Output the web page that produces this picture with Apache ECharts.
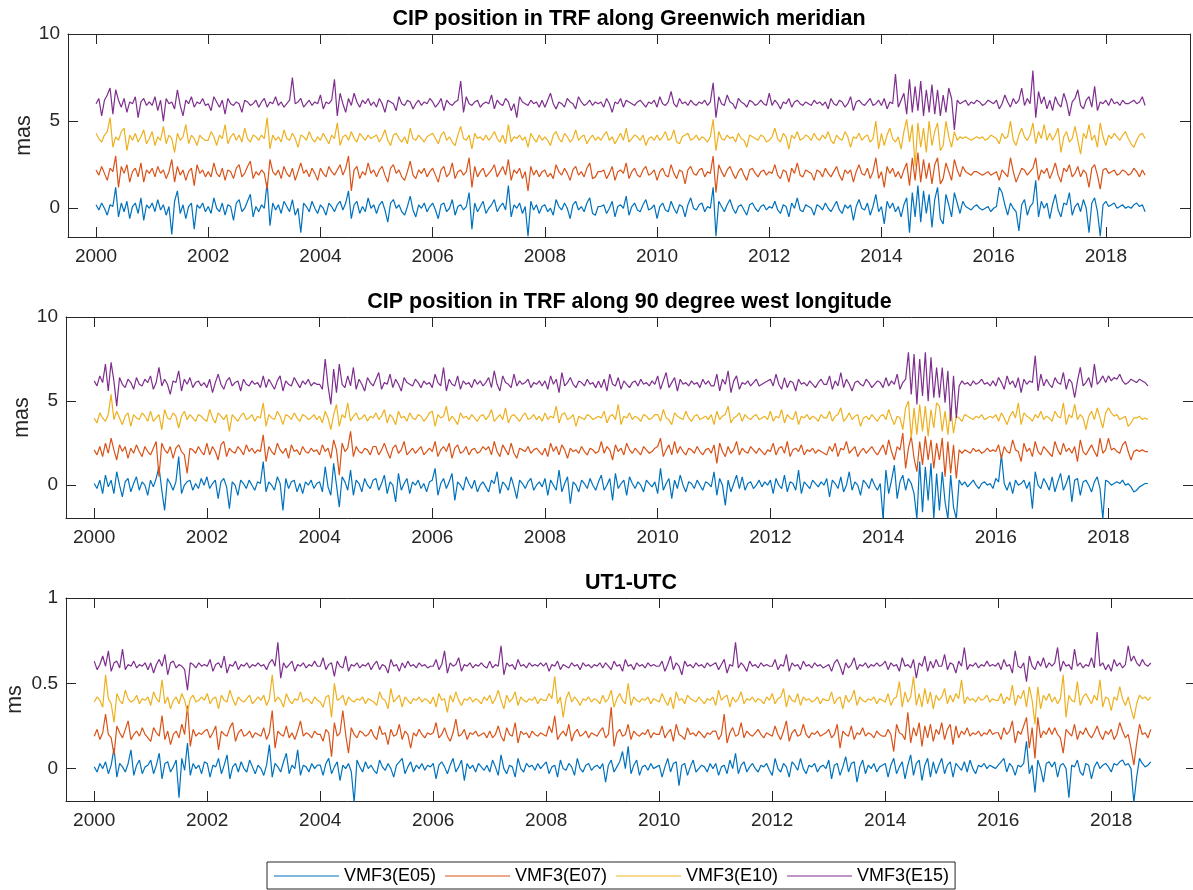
<!DOCTYPE html>
<html>
<head>
<meta charset="utf-8">
<script src="https://cdn.jsdelivr.net/npm/echarts@6.0.0/dist/echarts.min.js"></script>
<style>
  html, body { margin: 0; padding: 0; background: #fff; }
  #chart { width: 1193px; height: 890px; }
</style>
</head>
<body>
<div id="chart"></div>
<script>
// session epochs (decimal years), one row per year
var years = [
  2000.00, 2000.05, 2000.10, 2000.15, 2000.20, 2000.25, 2000.30, 2000.35, 2000.40, 2000.45, 2000.50, 2000.55, 2000.60, 2000.65, 2000.70, 2000.75, 2000.80, 2000.85, 2000.90, 2000.95,
  2001.00, 2001.05, 2001.10, 2001.15, 2001.20, 2001.25, 2001.30, 2001.35, 2001.40, 2001.45, 2001.50, 2001.55, 2001.60, 2001.65, 2001.70, 2001.75, 2001.80, 2001.85, 2001.90, 2001.95,
  2002.00, 2002.05, 2002.10, 2002.15, 2002.20, 2002.25, 2002.30, 2002.35, 2002.40, 2002.45, 2002.50, 2002.55, 2002.60, 2002.65, 2002.70, 2002.75, 2002.80, 2002.85, 2002.90, 2002.95,
  2003.00, 2003.05, 2003.10, 2003.15, 2003.20, 2003.25, 2003.30, 2003.35, 2003.40, 2003.45, 2003.50, 2003.55, 2003.60, 2003.65, 2003.70, 2003.75, 2003.80, 2003.85, 2003.90, 2003.95,
  2004.00, 2004.05, 2004.10, 2004.15, 2004.20, 2004.25, 2004.30, 2004.35, 2004.40, 2004.45, 2004.50, 2004.55, 2004.60, 2004.65, 2004.70, 2004.75, 2004.80, 2004.85, 2004.90, 2004.95,
  2005.00, 2005.05, 2005.10, 2005.15, 2005.20, 2005.25, 2005.30, 2005.35, 2005.40, 2005.45, 2005.50, 2005.55, 2005.60, 2005.65, 2005.70, 2005.75, 2005.80, 2005.85, 2005.90, 2005.95,
  2006.00, 2006.05, 2006.10, 2006.15, 2006.20, 2006.25, 2006.30, 2006.35, 2006.40, 2006.45, 2006.50, 2006.55, 2006.60, 2006.65, 2006.70, 2006.75, 2006.80, 2006.85, 2006.90, 2006.95,
  2007.00, 2007.05, 2007.10, 2007.15, 2007.20, 2007.25, 2007.30, 2007.35, 2007.40, 2007.45, 2007.50, 2007.55, 2007.60, 2007.65, 2007.70, 2007.75, 2007.80, 2007.85, 2007.90, 2007.95,
  2008.00, 2008.05, 2008.10, 2008.15, 2008.20, 2008.25, 2008.30, 2008.35, 2008.40, 2008.45, 2008.50, 2008.55, 2008.60, 2008.65, 2008.70, 2008.75, 2008.80, 2008.85, 2008.90, 2008.95,
  2009.00, 2009.05, 2009.10, 2009.15, 2009.20, 2009.25, 2009.30, 2009.35, 2009.40, 2009.45, 2009.50, 2009.55, 2009.60, 2009.65, 2009.70, 2009.75, 2009.80, 2009.85, 2009.90, 2009.95,
  2010.00, 2010.05, 2010.10, 2010.15, 2010.20, 2010.25, 2010.30, 2010.35, 2010.40, 2010.45, 2010.50, 2010.55, 2010.60, 2010.65, 2010.70, 2010.75, 2010.80, 2010.85, 2010.90, 2010.95,
  2011.00, 2011.05, 2011.10, 2011.15, 2011.20, 2011.25, 2011.30, 2011.35, 2011.40, 2011.45, 2011.50, 2011.55, 2011.60, 2011.65, 2011.70, 2011.75, 2011.80, 2011.85, 2011.90, 2011.95,
  2012.00, 2012.05, 2012.10, 2012.15, 2012.20, 2012.25, 2012.30, 2012.35, 2012.40, 2012.45, 2012.50, 2012.55, 2012.60, 2012.65, 2012.70, 2012.75, 2012.80, 2012.85, 2012.90, 2012.95,
  2013.00, 2013.05, 2013.10, 2013.15, 2013.20, 2013.25, 2013.30, 2013.35, 2013.40, 2013.45, 2013.50, 2013.55, 2013.60, 2013.65, 2013.70, 2013.75, 2013.80, 2013.85, 2013.90, 2013.95,
  2014.00, 2014.05, 2014.10, 2014.15, 2014.20, 2014.25, 2014.30, 2014.35, 2014.40, 2014.45, 2014.50, 2014.55, 2014.60, 2014.65, 2014.70, 2014.75, 2014.80, 2014.85, 2014.90, 2014.95,
  2015.00, 2015.05, 2015.10, 2015.15, 2015.20, 2015.25, 2015.30, 2015.35, 2015.40, 2015.45, 2015.50, 2015.55, 2015.60, 2015.65, 2015.70, 2015.75, 2015.80, 2015.85, 2015.90, 2015.95,
  2016.00, 2016.05, 2016.10, 2016.15, 2016.20, 2016.25, 2016.30, 2016.35, 2016.40, 2016.45, 2016.50, 2016.55, 2016.60, 2016.65, 2016.70, 2016.75, 2016.80, 2016.85, 2016.90, 2016.95,
  2017.00, 2017.05, 2017.10, 2017.15, 2017.20, 2017.25, 2017.30, 2017.35, 2017.40, 2017.45, 2017.50, 2017.55, 2017.60, 2017.65, 2017.70, 2017.75, 2017.80, 2017.85, 2017.90, 2017.95,
  2018.00, 2018.05, 2018.10, 2018.15, 2018.20, 2018.25, 2018.30, 2018.35, 2018.40, 2018.45, 2018.50, 2018.55, 2018.60, 2018.65, 2018.70
];

var seriesNames = ['VMF3(E05)', 'VMF3(E07)', 'VMF3(E10)', 'VMF3(E15)'];
var titles = ['CIP position in TRF along Greenwich meridian', 'CIP position in TRF along 90 degree west longitude', 'UT1-UTC'];
var units = ['mas', 'mas', 'ms'];
var xTicks = [2000, 2002, 2004, 2006, 2008, 2010, 2012, 2014, 2016, 2018];
var yTicksMas = [0, 5, 10];
var yTicksMs = [0, 0.5, 1];

// CIP along Greenwich meridian (mas)
var greenE05 = [
  0.2, -0.1, 0.3, 0.0, -0.4, 0.2, 0.1, 1.2, -0.5, 0.3, -0.2, 0.4, -0.6, 0.1, 0.3, -0.3, 0.6, -0.7, 0.2, 0.0,
  0.3, -0.2, 0.5, -0.1, 0.2, -0.4, 0.1, -1.5, 0.4, 1.0, -0.3, 0.2, -0.6, 0.1, 0.3, -1.2, 0.2, 0.0, 0.3, -0.2,
  0.1, -0.3, 0.6, 0.0, -0.2, 0.3, -0.4, 0.2, 0.1, -0.7, 0.3, 0.5, -0.2, 0.0, 0.4, 0.8, -0.5, 0.1, -0.2, 0.2,
  0.0, 1.5, -1.0, 0.3, -0.1, 0.2, -0.3, 0.4, 0.1, -0.2, 0.5, -0.4, 0.0, -1.4, 0.3, 0.1, -0.2, 0.4, 0.0, -0.3,
  0.2, 0.0, -0.4, 0.3, 0.1, -0.2, 0.2, 0.4, -0.1, 0.3, 1.0, -0.6, 0.2, 0.4, -0.3, 0.1, -0.2, 0.6, 0.0, 0.2,
  -0.3, 0.2, 0.4, -0.1, -0.8, 0.3, 0.5, 0.0, 0.2, -0.2, -0.4, 0.1, 0.7, -0.1, -0.5, 0.2, 0.0, 0.3, -0.2, 0.1,
  0.3, -0.1, -0.6, 0.2, 0.3, -0.2, 0.0, 0.5, -0.4, 0.1, 0.2, -0.1, 0.1, 0.9, -1.2, 0.3, -0.2, 0.1, 0.4, -0.3,
  0.0, 0.2, 0.5, -0.2, 0.1, 0.3, -0.1, 1.3, -0.5, 0.2, 0.0, 0.3, -0.3, 0.1, -1.6, 0.4, -0.1, 0.2, -0.3, 0.1,
  0.2, -0.2, 0.0, -0.4, 0.5, 0.1, -0.1, 0.3, 0.0, -0.6, 0.2, 0.4, -0.1, 0.1, -0.2, 0.3, 0.6, -0.3, -0.4, 0.1,
  0.1, 0.2, -0.3, 0.0, 0.4, -0.5, 0.1, 0.2, 0.0, 0.7, -0.4, 0.1, 0.3, -0.1, -0.2, 0.2, 0.5, -0.1, 0.0, 0.2,
  -0.6, 0.1, 0.3, -0.1, -0.2, 0.4, 0.0, -0.3, 0.2, 0.1, -0.5, 0.2, 0.6, 0.0, -0.1, 0.2, 0.3, -0.2, 0.1, 0.0,
  1.2, -1.6, 0.4, 0.1, -0.2, 0.2, 0.5, 0.0, -0.3, 0.1, 0.2, -0.1, -0.4, 0.2, 0.3, 0.0, -0.2, 0.1, 0.2, -0.1,
  0.1, 0.0, 0.4, -0.1, -0.3, 0.2, 0.1, -0.5, 0.3, 0.0, 0.6, -0.1, -0.2, 0.2, 0.1, 0.0, -0.4, 0.2, 0.1, -0.1,
  0.3, 0.0, -0.2, 0.1, 0.4, -0.1, -0.3, 0.2, 0.0, 0.2, -0.7, 0.1, 0.5, 0.0, -0.1, 0.3, -0.4, 0.1, 0.8, -0.2,
  0.1, -0.9, 0.4, 0.0, 0.3, -0.2, 0.1, -0.5, 0.2, 0.6, -1.4, 0.9, -0.5, 1.3, -0.8, 1.0, -0.3, 0.8, -1.1, 0.5,
  1.2, -0.6, -0.9, 0.8, 0.2, -0.5, 0.9, 0.3, -0.3, 0.4, 0.1, 0.0, -0.1, 0.1, 0.2, 0.0, -0.1, 0.0, 0.1, -0.2,
  0.0, 0.1, 1.2, 0.9, 0.2, -0.4, 0.3, 0.0, -0.2, -1.3, 0.2, 0.5, -0.4, 0.1, 0.3, 1.6, -0.5, 0.4, 0.0, 0.3,
  -0.6, 0.2, 0.8, -0.1, -0.5, 0.3, 0.2, 0.9, -0.4, 0.1, 0.3, -0.2, 0.5, 0.0, -1.4, 0.3, 0.6, -0.2, -1.6, 0.2,
  0.4, 0.1, 0.2, 0.3, 0.0, 0.1, 0.2, 0.0, 0.1, 0.0, 0.2, 0.3, 0.1, 0.2, -0.2
];
var greenE07 = [
  2.2, 1.9, 2.4, 2.0, 1.6, 2.3, 2.1, 3.0, 1.2, 2.4, 2.0, 2.5, 1.5, 2.1, 2.3, 1.8, 2.6, 1.5, 2.2, 2.0,
  2.3, 1.8, 2.4, 2.0, 2.2, 1.7, 2.1, 2.8, 1.5, 2.4, 1.9, 2.2, 1.6, 2.1, 2.3, 1.3, 2.5, 2.0, 2.2, 1.8,
  2.1, 1.8, 2.6, 2.0, 1.8, 2.3, 1.6, 2.2, 2.1, 1.7, 2.3, 2.5, 1.8, 2.0, 2.4, 2.7, 1.7, 2.1, 1.9, 2.2,
  2.0, 1.1, 2.8, 2.1, 1.9, 2.2, 1.7, 2.4, 2.0, 1.8, 2.3, 1.6, 2.1, 2.6, 2.0, 2.2, 1.8, 2.3, 2.0, 1.6,
  2.3, 2.0, 1.8, 2.4, 2.1, 1.9, 2.2, 2.5, 1.9, 2.3, 3.0, 1.0, 2.2, 2.4, 1.7, 2.1, 1.9, 2.6, 2.0, 2.2,
  1.8, 2.2, 2.4, 1.9, 1.5, 2.3, 2.5, 2.0, 2.2, 1.8, 1.6, 2.1, 2.7, 1.9, 1.7, 2.2, 2.0, 2.3, 1.8, 2.1,
  2.3, 1.9, 1.5, 2.2, 2.4, 1.8, 2.0, 2.6, 1.7, 2.1, 2.2, 1.9, 2.1, 2.9, 1.2, 2.4, 1.8, 2.1, 2.3, 1.8,
  2.0, 2.2, 2.5, 1.8, 2.1, 2.4, 1.9, 2.8, 1.6, 2.2, 2.0, 2.3, 1.7, 2.1, 1.0, 2.4, 1.9, 2.2, 1.8, 2.1,
  2.2, 1.8, 2.0, 1.7, 2.5, 2.1, 1.9, 2.3, 2.0, 1.6, 2.2, 2.4, 1.9, 2.1, 1.8, 2.3, 2.6, 1.7, 1.8, 2.1,
  2.1, 2.2, 1.7, 2.0, 2.4, 1.6, 2.1, 2.2, 2.0, 2.6, 1.7, 2.1, 2.3, 1.9, 1.8, 2.2, 2.4, 1.9, 2.0, 2.2,
  1.6, 2.1, 2.3, 1.9, 1.8, 2.5, 2.0, 1.7, 2.2, 2.1, 1.4, 2.2, 2.4, 2.0, 1.9, 2.2, 2.3, 1.8, 2.1, 2.0,
  3.0, 0.9, 2.5, 2.1, 1.8, 2.2, 2.4, 2.0, 1.7, 2.1, 2.3, 1.9, 1.6, 2.2, 2.3, 2.0, 1.8, 2.1, 2.2, 1.9,
  2.1, 2.0, 2.5, 1.9, 1.7, 2.2, 2.1, 1.5, 2.3, 2.0, 2.6, 1.9, 1.8, 2.2, 2.1, 2.0, 1.6, 2.2, 2.1, 1.8,
  2.3, 2.0, 1.8, 2.1, 2.4, 1.9, 1.6, 2.2, 2.0, 2.2, 1.5, 2.1, 2.5, 2.0, 1.9, 2.3, 1.7, 2.1, 2.9, 1.7,
  2.1, 1.2, 2.4, 2.0, 2.3, 1.8, 2.1, 1.7, 2.2, 2.6, 1.3, 2.9, 1.6, 3.2, 1.5, 2.8, 1.7, 2.6, 1.4, 2.5,
  2.9, 1.4, 1.7, 2.6, 2.1, 1.6, 2.8, 2.2, 1.8, 2.4, 2.1, 2.0, 1.9, 2.1, 2.1, 2.0, 1.9, 2.0, 2.1, 1.9,
  2.0, 2.1, 1.6, 2.2, 2.0, 1.8, 2.9, 2.1, 1.5, 1.9, 2.3, 2.2, 1.9, 2.1, 2.3, 2.9, 1.6, 2.2, 2.0, 2.3,
  1.7, 2.1, 2.6, 1.9, 1.5, 2.3, 2.1, 2.5, 1.8, 2.0, 2.4, 1.8, 2.2, 2.0, 1.2, 2.3, 2.5, 1.9, 1.1, 2.2,
  2.3, 2.0, 2.1, 2.2, 1.9, 2.0, 2.2, 2.1, 1.9, 2.0, 2.3, 2.1, 1.8, 2.2, 1.9
];
var greenE10 = [
  4.3, 4.0, 3.8, 4.2, 4.4, 5.2, 3.5, 4.1, 3.9, 4.4, 4.6, 3.3, 4.2, 3.9, 4.3, 3.8, 4.1, 4.5, 3.7, 4.0,
  4.4, 3.6, 4.1, 3.9, 4.7, 3.7, 4.2, 4.0, 3.2, 4.3, 3.9, 4.1, 4.8, 3.7, 4.2, 4.0, 3.6, 4.2, 4.0, 3.9,
  3.9, 4.4, 4.1, 3.6, 4.2, 4.0, 4.8, 3.7, 4.1, 4.3, 3.9, 4.2, 3.8, 4.6, 4.0, 3.8, 4.2, 4.1, 3.9, 4.2,
  4.0, 5.2, 3.4, 4.2, 3.9, 4.1, 3.8, 4.5, 4.0, 3.9, 4.3, 4.0, 3.5, 4.2, 4.1, 3.9, 4.4, 4.0, 3.8, 4.1,
  3.9, 4.3, 4.0, 3.7, 4.2, 4.0, 4.9, 3.6, 4.1, 4.2, 3.9, 4.4, 4.0, 3.8, 4.3, 4.1, 3.9, 4.2, 4.0, 4.1,
  4.2, 3.8, 4.1, 4.5, 3.9, 3.6, 4.2, 4.3, 4.0, 3.8, 4.1, 3.7, 4.6, 4.0, 3.9, 4.2, 4.0, 3.8, 4.1, 4.2,
  4.3, 4.0, 3.7, 4.2, 4.4, 3.9, 4.1, 3.8, 3.6, 4.2, 4.7, 4.0, 3.9, 4.2, 3.4, 4.3, 4.0, 4.1, 3.9, 4.2,
  3.9, 4.1, 4.4, 4.0, 3.8, 4.2, 3.7, 4.8, 3.8, 4.1, 4.0, 4.2, 3.9, 4.1, 3.5, 4.3, 4.0, 3.8, 4.2, 3.9,
  4.1, 3.9, 3.6, 4.2, 4.4, 4.0, 3.8, 4.3, 4.1, 3.8, 4.0, 4.5, 3.9, 4.1, 4.2, 3.7, 4.0, 4.2, 3.9, 4.1,
  3.9, 4.2, 4.4, 3.9, 4.1, 3.7, 4.0, 4.3, 3.9, 4.6, 3.8, 4.0, 4.2, 4.1, 3.9, 4.2, 3.6, 4.0, 4.1, 3.9,
  4.2, 3.9, 4.1, 4.4, 3.9, 4.0, 4.5, 3.8, 3.7, 4.1, 4.2, 4.3, 3.9, 4.0, 4.2, 3.9, 4.1, 4.0, 3.8, 4.1,
  5.1, 3.3, 4.4, 4.0, 3.9, 4.2, 4.0, 4.1, 3.8, 4.3, 4.0, 3.9, 3.5, 4.2, 4.1, 4.0, 3.9, 4.2, 4.1, 3.8,
  3.9, 4.1, 4.6, 4.0, 3.8, 4.3, 4.1, 3.4, 4.2, 4.0, 4.4, 3.9, 4.0, 4.2, 4.1, 3.9, 4.3, 4.0, 3.9, 4.2,
  4.0, 4.4, 3.9, 3.7, 4.2, 4.0, 3.9, 4.4, 4.1, 3.5, 4.1, 4.0, 4.3, 3.9, 4.1, 4.2, 3.8, 4.0, 5.0, 3.4,
  4.3, 3.6, 4.2, 4.6, 4.0, 3.8, 4.1, 3.4, 4.4, 5.1, 3.8, 4.8, 2.4, 4.9, 3.5, 4.6, 3.2, 5.0, 3.6, 4.4,
  4.9, 3.3, 3.6, 5.0, 4.1, 3.5, 4.4, 3.9, 4.1, 4.0, 4.1, 4.0, 3.9, 4.0, 4.1, 4.0, 4.1, 3.9, 4.0, 4.2,
  4.1, 4.0, 3.7, 4.3, 4.0, 4.1, 5.0, 3.9, 3.6, 4.2, 4.6, 4.1, 3.9, 4.2, 4.9, 3.7, 4.4, 4.0, 4.8, 3.9,
  4.3, 3.9, 4.2, 4.6, 3.2, 4.1, 4.4, 3.8, 4.0, 4.7, 3.9, 3.1, 4.3, 4.0, 4.8, 3.9, 4.2, 3.5, 4.9, 4.1,
  3.6, 4.2, 4.0, 4.3, 4.1, 3.9, 4.2, 4.4, 4.0, 3.7, 3.5, 3.9, 4.2, 4.3, 4.0
];
var greenE15 = [
  6.0, 6.3, 5.3, 6.2, 6.5, 6.9, 5.4, 6.8, 6.2, 5.8, 6.3, 5.5, 6.1, 6.0, 6.4, 5.2, 6.1, 6.3, 5.9, 6.1,
  5.9, 6.4, 5.6, 6.2, 5.0, 6.3, 6.0, 6.1, 5.7, 6.8, 5.9, 5.3, 6.2, 6.0, 6.4, 5.8, 6.1, 6.0, 6.3, 5.9,
  6.0, 5.6, 6.4, 6.1, 5.8, 6.2, 5.4, 6.3, 6.0, 5.9, 6.1, 6.0, 5.5, 6.2, 6.1, 5.9, 6.0, 6.2, 5.8, 6.1,
  6.3, 5.8, 6.1, 6.0, 6.4, 5.9, 6.1, 5.8, 6.0, 6.2, 7.5, 6.0, 6.1, 6.3, 5.8, 6.0, 6.2, 5.9, 6.1, 6.0,
  6.5, 5.7, 6.1, 6.0, 6.2, 7.4, 5.3, 6.6, 6.0, 5.5, 6.3, 5.9, 6.6, 6.1, 5.8, 6.2, 6.0, 6.3, 5.9, 6.1,
  5.8, 6.3, 6.0, 5.5, 6.2, 6.1, 6.0, 5.6, 6.4, 6.0, 5.9, 6.2, 6.1, 5.7, 6.0, 6.2, 5.9, 6.1, 6.0, 6.3,
  6.1, 5.8, 6.0, 6.3, 5.6, 6.2, 6.0, 5.9, 6.1, 6.2, 7.3, 5.5, 6.4, 6.0, 5.9, 6.1, 6.2, 5.8, 6.0, 6.1,
  6.0, 6.5, 5.7, 6.2, 6.0, 5.9, 6.3, 6.1, 5.6, 6.0, 5.2, 6.4, 6.1, 6.0, 5.9, 6.2, 6.0, 6.1, 5.8, 6.2,
  5.8, 6.2, 6.6, 6.0, 5.7, 6.1, 6.0, 5.8, 6.3, 6.1, 6.0, 5.7, 6.4, 6.1, 5.9, 6.0, 6.2, 5.9, 6.1, 6.0,
  6.1, 5.8, 6.3, 6.0, 5.5, 6.1, 6.0, 6.3, 5.8, 6.2, 6.1, 6.0, 5.9, 6.1, 6.2, 6.0, 5.8, 6.1, 6.0, 6.2,
  5.8, 6.4, 6.0, 5.9, 6.1, 6.7, 6.0, 5.8, 6.3, 6.0, 6.1, 5.9, 6.2, 6.0, 5.9, 6.1, 6.0, 6.2, 5.9, 6.1,
  7.2, 5.2, 6.4, 6.0, 5.9, 6.5, 6.1, 6.0, 5.7, 6.3, 6.1, 6.0, 5.8, 6.2, 6.1, 5.9, 6.0, 6.2, 6.0, 5.9,
  6.6, 5.9, 6.2, 6.0, 5.7, 6.1, 6.0, 6.3, 5.8, 6.1, 6.2, 6.0, 5.9, 6.1, 6.0, 5.9, 6.2, 6.0, 6.1, 5.9,
  6.1, 5.7, 6.3, 6.0, 5.9, 6.2, 6.1, 5.8, 6.0, 6.4, 5.6, 6.1, 6.2, 6.0, 5.9, 6.1, 6.3, 5.9, 6.0, 6.2,
  5.9, 6.3, 5.7, 6.1, 6.0, 7.7, 5.8, 6.2, 6.6, 5.4, 7.4, 5.5, 7.0, 5.6, 7.3, 5.3, 6.8, 5.5, 7.1, 5.4,
  6.8, 5.3, 6.5, 5.5, 6.9, 6.3, 4.5, 6.2, 6.0, 6.1, 6.2, 5.9, 6.1, 6.0, 6.2, 6.1, 5.9, 6.0, 6.2, 6.1,
  6.0, 6.2, 5.7, 6.0, 6.5, 6.1, 5.8, 6.3, 6.0, 6.2, 6.9, 5.9, 6.3, 6.0, 7.9, 5.2, 6.7, 6.0, 6.4, 5.7,
  6.2, 5.6, 6.4, 6.0, 5.8, 6.6, 6.1, 5.3, 6.1, 6.3, 6.8, 5.9, 5.7, 6.2, 6.4, 5.8, 7.0, 5.6, 6.1, 6.0,
  6.2, 5.9, 6.3, 6.0, 6.1, 5.9, 6.2, 6.0, 6.0, 6.1, 6.2, 6.0, 6.1, 6.4, 5.9
];

// CIP along 90 degree west longitude (mas)
var westE05 = [
  0.1, -0.2, 0.3, -0.5, 0.6, -0.1, 0.3, -0.5, 0.8, 0.0, -0.7, 0.2, 0.4, -0.4, 0.1, 0.5, -0.3, 0.2, 0.0, -0.6,
  0.3, -0.1, 0.4, 1.1, -0.3, -1.5, 0.4, 0.1, -0.3, 0.2, 1.7, -0.5, 0.0, 0.2, 0.3, -0.3, 0.1, -0.2, 0.4, 0.0,
  0.5, -0.2, 0.1, 0.3, -0.8, 0.2, 0.4, -0.1, -1.4, 0.2, 0.0, -0.6, 0.3, 0.1, -0.2, 0.3, 0.0, -0.3, 0.2, 0.1,
  1.4, -0.4, 0.2, 0.0, -0.3, 0.5, 0.1, -1.5, 0.4, -0.2, 0.2, 0.3, -0.4, 0.1, -0.5, 0.2, 0.0, 0.3, -0.2, 0.1,
  0.2, -0.4, 1.1, -0.1, -0.6, 1.3, 0.0, -1.3, 0.5, 0.2, -0.3, 0.9, -0.6, 0.3, 0.1, -0.4, 0.4, 0.0, -0.2, 0.3,
  0.4, -0.3, 0.1, 0.6, -0.5, 0.2, 0.0, -1.0, 0.7, -0.3, 0.1, 0.4, -0.5, 0.2, 0.0, 0.3, -0.2, 0.1, -0.4, 0.2,
  0.3, 1.0, -0.6, 0.1, 0.4, -0.2, 0.2, 0.7, -0.9, 0.2, 0.0, -0.3, 0.5, 0.1, -0.2, 0.3, -0.4, 0.0, 0.2, -0.1,
  -0.4, 0.3, 0.1, 0.8, -0.5, 0.2, 0.0, -0.3, 0.5, -0.1, -0.8, 0.3, 0.1, -0.2, 0.2, 0.4, -0.3, 0.0, 0.2, -0.1,
  0.4, -0.6, 0.3, 0.0, -0.3, 0.9, -0.4, 0.1, 0.5, -1.1, 0.2, 0.0, -0.4, 0.3, 0.1, -0.2, 0.4, 0.0, -0.3, 0.2,
  0.6, -0.3, 0.0, 0.4, -0.9, 0.7, -0.2, 0.1, 0.3, -0.6, 0.5, 0.1, -0.2, 0.2, 0.0, -0.4, 0.3, 0.1, -0.1, 0.2,
  -0.5, 1.0, -0.3, 0.1, 0.4, -0.8, 0.3, -0.2, 0.6, 0.0, -0.4, 0.2, 0.1, -0.2, 0.3, 0.0, -0.3, 0.2, 0.1, -0.1,
  0.8, -0.6, 0.4, 0.0, -1.2, 0.3, -0.4, 0.1, 0.6, -0.2, 0.5, -0.3, 0.1, 0.2, -0.2, 0.0, 0.3, -0.1, 0.2, 0.0,
  0.3, -0.5, 0.4, 0.0, -0.2, 0.6, -0.4, 0.2, 0.1, -0.3, 0.9, -0.5, 0.2, 0.0, -0.2, 0.3, 0.1, -0.1, 0.2, 0.0,
  0.4, -0.7, 0.3, 0.1, -0.2, 0.5, -0.4, 0.0, 0.8, -0.3, 0.2, 0.0, -0.6, 0.3, 0.1, -0.2, 0.4, 0.0, -0.3, 0.1,
  -2.0, 0.9, -0.5, 0.3, 1.2, -0.8, 0.2, 0.6, -0.3, 0.4, 0.1, -0.5, -2.0, 1.4, -1.6, 1.1, -0.9, 1.3, -2.0, 0.7,
  -1.5, 0.8, -1.0, -2.0, 0.6, -1.3, -2.0, 0.3, 0.0, 0.2, -0.1, 0.1, 0.3, 0.0, -0.2, 0.1, 0.2, 0.0, 0.1, -0.2,
  0.4, 0.2, 1.8, 0.1, -0.3, 0.2, -0.5, 0.3, 0.0, 0.1, 0.3, -0.2, 0.2, -1.4, 0.8, 0.0, -0.2, 0.4, 0.1, -0.3,
  0.5, -0.4, 0.2, 0.7, -0.3, 0.1, 0.6, -1.0, 0.3, 0.4, -0.6, 0.2, 0.3, 0.0, -0.4, 0.2, 0.5, -0.2, -2.0, 0.3,
  0.2, 0.0, 0.1, 0.2, 0.1, 0.3, 0.0, 0.1, -0.1, -0.4, -0.3, -0.1, 0.0, 0.1, 0.1
];
var westE07 = [
  2.1, 1.8, 2.3, 1.7, 2.5, 1.9, 2.8, 2.1, 1.5, 2.4, 2.0, 2.3, 1.6, 2.2, 1.9, 2.4, 2.0, 1.7, 2.3, 2.0,
  1.8, 2.2, 2.6, 0.5, 2.5, 2.1, 1.9, 2.3, 1.6, 2.2, 2.4, 2.0, 1.8, 0.7, 2.2, 2.1, 1.9, 2.3, 2.0, 1.8,
  2.5, 1.8, 2.3, 2.0, 1.5, 2.4, 2.6, 1.7, 2.2, 2.0, 1.9, 2.3, 2.1, 1.8, 2.4, 2.0, 2.2, 1.9, 2.1, 2.0,
  3.0, 1.4, 2.3, 2.0, 1.8, 2.5, 2.1, 1.9, 2.2, 1.6, 2.4, 2.0, 2.1, 1.8, 2.3, 2.0, 1.9, 2.2, 2.0, 2.1,
  1.8, 2.4, 2.0, 2.2, 1.6, 2.7, 2.1, 0.6, 2.5, 2.0, 2.2, 3.2, 1.7, 2.3, 2.0, 1.9, 2.2, 2.1, 1.8, 2.3,
  2.3, 1.8, 2.1, 2.5, 2.0, 1.6, 2.2, 2.4, 1.9, 2.1, 2.6, 1.8, 2.0, 2.2, 1.9, 2.1, 2.3, 1.8, 2.0, 2.2,
  2.0, 2.6, 1.7, 2.1, 2.3, 2.0, 2.5, 1.6, 2.2, 2.4, 1.9, 2.0, 2.3, 1.8, 2.1, 2.2, 1.9, 2.0, 2.3, 2.1,
  2.3, 1.8, 2.6, 2.0, 1.7, 2.4, 2.1, 1.8, 2.5, 1.9, 1.6, 2.2, 2.1, 2.0, 2.3, 1.9, 2.1, 2.2, 2.0, 1.8,
  2.2, 1.7, 2.5, 2.0, 2.3, 1.8, 2.4, 2.1, 1.6, 2.2, 2.0, 2.1, 1.9, 2.3, 2.0, 1.8, 2.2, 2.1, 1.9, 2.0,
  2.6, 1.9, 2.3, 2.1, 1.5, 2.4, 2.0, 2.2, 1.8, 2.5, 2.1, 1.9, 2.2, 2.0, 1.8, 2.3, 2.1, 1.9, 2.0, 2.2,
  2.3, 2.8, 1.7, 2.1, 2.4, 1.8, 2.6, 1.9, 2.3, 2.0, 1.8, 2.2, 2.1, 1.9, 2.3, 2.0, 1.8, 2.1, 2.2, 1.9,
  2.4, 1.3, 2.5, 2.0, 1.7, 2.3, 1.9, 2.1, 2.6, 1.8, 2.2, 2.0, 1.9, 2.3, 2.1, 1.9, 2.2, 2.0, 1.8, 2.1,
  2.0, 2.5, 1.8, 2.2, 2.3, 1.9, 2.6, 1.7, 2.1, 2.2, 2.0, 2.4, 1.8, 2.1, 2.0, 2.2, 1.9, 2.1, 2.0, 1.9,
  1.8, 2.3, 2.0, 2.5, 1.7, 2.2, 2.1, 2.6, 1.9, 2.1, 2.3, 1.7, 2.0, 2.2, 1.9, 2.1, 2.3, 2.0, 1.8, 2.1,
  2.4, 1.8, 2.7, 2.0, 1.5, 2.3, 2.1, 3.1, 1.0, 2.2, 2.9, 1.6, 0.8, 2.6, 1.2, 2.9, 1.5, 2.7, 1.0, 2.5,
  1.5, 2.8, 0.5, 2.6, 0.7, 2.4, 0.4, 2.1, 1.9, 2.1, 2.0, 1.9, 2.2, 2.0, 2.1, 1.9, 2.0, 2.2, 2.0, 2.1,
  2.0, 2.4, 1.6, 2.3, 2.0, 1.9, 2.7, 2.1, 2.0, 1.4, 2.5, 2.0, 2.2, 1.7, 2.6, 2.0, 1.8, 2.3, 2.1, 1.9,
  1.7, 2.6, 2.1, 1.8, 2.5, 2.0, 2.2, 1.9, 2.3, 1.4, 2.7, 2.0, 1.8, 2.1, 2.4, 2.0, 1.7, 2.8, 1.9, 2.1,
  2.8, 2.1, 2.2, 2.0, 1.9, 2.4, 2.6, 2.0, 1.5, 2.0, 2.1, 2.0, 2.1, 2.0, 2.0
];
var westE10 = [
  4.0, 3.7, 4.3, 4.0, 3.8, 4.2, 5.4, 3.9, 4.4, 4.0, 3.6, 4.1, 4.3, 3.5, 4.2, 4.0, 3.9, 4.3, 4.1, 3.8,
  4.4, 3.8, 4.0, 4.2, 3.3, 4.5, 4.0, 3.9, 4.3, 4.1, 3.4, 4.1, 4.4, 3.9, 4.2, 4.0, 3.8, 4.2, 4.1, 3.9,
  3.8, 4.5, 4.0, 3.7, 4.3, 4.1, 3.9, 4.2, 3.2, 4.2, 4.0, 3.8, 4.1, 4.3, 3.9, 4.0, 4.2, 3.8, 4.1, 4.0,
  4.9, 3.5, 4.2, 4.0, 3.9, 4.4, 4.1, 3.6, 4.2, 4.1, 3.9, 4.3, 4.0, 3.8, 4.2, 4.1, 3.9, 4.0, 4.2, 3.9,
  4.1, 3.7, 4.4, 4.0, 3.3, 4.2, 4.8, 3.5, 4.2, 4.0, 4.9, 3.8, 4.1, 4.3, 3.9, 4.0, 4.2, 3.8, 4.1, 4.0,
  4.3, 3.9, 4.1, 4.5, 3.7, 4.2, 4.0, 3.6, 4.4, 4.0, 4.1, 3.8, 4.3, 4.0, 3.9, 4.2, 4.1, 3.8, 4.0, 4.3,
  4.4, 3.5, 4.2, 4.0, 4.1, 4.7, 3.8, 4.1, 3.9, 3.6, 4.3, 4.0, 4.1, 3.9, 4.2, 4.0, 3.8, 4.1, 4.2, 3.9,
  4.1, 4.5, 3.8, 4.0, 4.2, 3.9, 4.6, 3.7, 4.1, 4.2, 4.0, 3.8, 4.1, 4.3, 3.9, 4.0, 4.2, 3.9, 4.1, 3.8,
  4.3, 3.9, 4.1, 4.0, 4.7, 3.7, 4.2, 4.3, 3.9, 4.0, 4.2, 3.5, 4.1, 4.0, 3.9, 4.2, 4.1, 3.9, 4.0, 4.1,
  4.0, 4.4, 3.7, 4.1, 4.2, 3.9, 4.8, 3.6, 4.1, 4.0, 4.3, 3.9, 4.1, 4.0, 3.8, 4.2, 4.1, 3.9, 4.0, 4.2,
  4.2, 3.8, 4.5, 4.0, 3.9, 3.6, 4.3, 4.1, 4.0, 3.9, 4.4, 4.0, 3.8, 4.1, 4.2, 3.9, 4.0, 4.1, 3.9, 4.2,
  3.6, 4.4, 3.9, 4.1, 4.2, 4.7, 3.7, 4.0, 4.1, 4.3, 3.8, 4.2, 4.0, 3.9, 4.1, 4.2, 3.9, 4.0, 4.1, 3.9,
  4.4, 3.8, 4.1, 4.0, 4.5, 3.7, 4.2, 4.0, 3.9, 4.4, 3.6, 4.1, 4.0, 4.2, 3.9, 4.1, 4.0, 3.8, 4.2, 4.0,
  4.0, 4.4, 3.8, 4.1, 4.2, 4.6, 3.8, 4.0, 4.3, 3.9, 4.1, 4.2, 3.5, 4.0, 4.1, 3.9, 4.2, 4.0, 3.8, 4.1,
  4.2, 3.9, 4.5, 4.0, 3.6, 4.1, 4.0, 3.3, 4.6, 5.0, 2.8, 4.6, 3.0, 4.8, 3.2, 4.7, 2.9, 4.5, 3.4, 4.9,
  4.7, 3.2, 4.4, 3.0, 4.6, 3.1, 4.1, 4.0, 3.8, 4.2, 4.1, 4.0, 3.9, 4.1, 4.0, 4.2, 3.9, 4.0, 4.1, 4.0,
  4.2, 3.8, 4.3, 4.0, 3.6, 4.1, 4.4, 4.0, 4.9, 3.6, 4.3, 4.1, 4.0, 3.8, 4.2, 4.0, 4.4, 3.9, 4.1, 4.0,
  3.8, 4.4, 4.1, 4.0, 4.9, 3.6, 4.2, 4.0, 4.8, 3.9, 4.2, 4.0, 3.3, 4.1, 4.4, 3.9, 4.6, 4.0, 3.4, 4.3,
  4.6, 4.3, 4.1, 4.2, 3.9, 4.0, 4.1, 3.5, 3.7, 4.0, 4.0, 4.1, 3.9, 4.0, 3.9
];
var westE15 = [
  6.2, 5.9, 6.5, 6.1, 7.2, 5.6, 7.3, 6.2, 4.7, 6.4, 6.0, 5.8, 6.3, 6.1, 5.7, 6.4, 6.0, 5.9, 6.3, 6.1,
  6.5, 5.7, 6.1, 7.0, 5.9, 6.3, 6.0, 5.4, 6.2, 6.1, 6.8, 5.6, 6.3, 6.0, 6.4, 5.8, 6.1, 6.2, 5.9, 6.1,
  5.8, 6.3, 5.5, 6.1, 6.6, 6.0, 5.7, 6.2, 6.4, 5.9, 6.1, 6.2, 5.6, 6.3, 6.0, 5.9, 6.2, 6.0, 6.1, 5.8,
  6.5, 5.8, 6.3, 6.0, 5.7, 6.2, 6.5, 5.6, 6.2, 6.0, 5.9, 6.4, 6.1, 5.8, 6.2, 6.0, 6.3, 5.9, 6.1, 6.0,
  6.0, 5.7, 7.5, 5.9, 4.8, 6.9, 5.5, 7.2, 6.0, 5.8, 6.5, 5.9, 7.0, 5.7, 6.3, 6.0, 5.6, 6.4, 6.1, 5.9,
  6.3, 6.7, 5.7, 6.1, 6.0, 6.6, 5.8, 6.3, 6.0, 5.6, 6.4, 6.1, 6.0, 5.9, 6.3, 6.1, 5.8, 6.2, 6.0, 6.1,
  5.8, 6.6, 6.1, 5.9, 7.0, 5.6, 6.3, 6.0, 5.9, 6.5, 5.7, 6.2, 6.0, 6.1, 5.8, 6.3, 6.0, 6.2, 5.9, 6.1,
  6.4, 5.8, 6.8, 6.0, 5.6, 6.5, 6.1, 6.0, 5.8, 6.6, 5.9, 6.2, 6.0, 6.1, 6.3, 5.8, 6.1, 6.0, 6.2, 5.9,
  6.2, 5.7, 6.5, 6.0, 6.3, 5.5, 6.7, 5.9, 6.1, 6.4, 6.0, 5.8, 6.2, 6.1, 5.9, 6.3, 6.0, 6.1, 5.8, 6.2,
  5.8, 6.3, 5.6, 6.6, 6.0, 5.9, 6.4, 5.7, 6.2, 6.0, 5.8, 6.1, 6.2, 5.9, 6.3, 6.0, 6.1, 5.9, 6.2, 6.0,
  6.5, 5.7, 6.2, 6.7, 5.8, 6.1, 6.4, 5.6, 6.3, 6.0, 6.1, 5.9, 6.2, 6.0, 6.1, 5.8, 6.3, 6.0, 6.2, 5.9,
  5.9, 6.6, 5.6, 6.3, 6.0, 6.8, 5.5, 6.2, 6.5, 5.7, 6.1, 6.0, 6.2, 5.9, 6.1, 6.3, 5.9, 6.0, 6.1, 6.2,
  6.3, 5.9, 6.6, 6.0, 5.7, 6.4, 5.8, 6.2, 6.1, 5.6, 6.3, 6.0, 6.1, 5.9, 6.2, 6.0, 5.8, 6.1, 6.3, 6.0,
  6.0, 6.5, 5.7, 6.2, 5.9, 6.7, 5.8, 6.3, 6.0, 5.6, 6.1, 6.2, 6.0, 5.9, 6.3, 6.1, 5.8, 6.0, 6.2, 6.1,
  5.8, 6.4, 5.9, 6.2, 6.0, 6.6, 5.7, 6.1, 6.3, 7.9, 5.4, 7.8, 4.8, 7.5, 5.3, 7.9, 5.0, 7.6, 5.2, 7.0,
  5.2, 7.0, 4.9, 6.8, 3.8, 6.5, 4.0, 5.9, 6.2, 6.0, 6.1, 5.9, 6.2, 6.0, 6.1, 6.3, 6.0, 6.1, 5.9, 6.2,
  5.9, 6.4, 6.1, 5.7, 6.5, 6.0, 6.2, 5.8, 6.4, 5.5, 6.3, 6.0, 6.2, 6.1, 7.7, 5.6, 6.6, 5.9, 6.3, 6.0,
  5.8, 6.4, 6.1, 6.0, 6.7, 5.7, 6.3, 6.1, 5.2, 6.2, 7.0, 5.9, 6.1, 6.4, 5.8, 7.2, 6.0, 6.2, 6.5, 6.1,
  6.5, 6.2, 6.4, 6.3, 6.6, 6.2, 6.0, 6.1, 6.3, 6.2, 6.1, 6.3, 6.2, 6.1, 5.9
];

// UT1-UTC (ms)
var utE05 = [
  0.01, -0.02, 0.03, 0.0, 0.04, -0.03, 0.02, 0.12, -0.05, 0.03, 0.01, -0.02, 0.03, 0.11, -0.04, 0.02, 0.05, -0.03, 0.01, 0.02,
  0.05, -0.03, 0.02, 0.09, -0.06, 0.03, 0.04, -0.02, 0.01, 0.05, -0.17, 0.06, -0.01, 0.15, -0.04, 0.03, 0.0, 0.02, -0.03, 0.04,
  0.03, -0.05, 0.02, 0.01, 0.06, -0.03, 0.02, 0.08, -0.06, 0.01, 0.03, -0.02, 0.04, 0.0, -0.02, 0.05, 0.01, -0.03, 0.02, 0.0,
  -0.04, 0.02, 0.14, -0.05, 0.03, 0.01, -0.02, 0.04, 0.09, -0.03, 0.02, 0.0, 0.11, -0.04, 0.02, 0.01, -0.02, 0.03, 0.0, 0.02,
  0.02, -0.04, 0.03, 0.06, -0.03, 0.01, 0.04, -0.07, 0.02, 0.0, 0.03, -0.02, -0.2, 0.05, 0.01, -0.02, 0.04, 0.0, 0.02, -0.01,
  -0.03, 0.05, 0.01, -0.01, 0.03, 0.0, -0.05, 0.02, 0.04, 0.06, -0.03, 0.01, 0.04, -0.02, 0.02, 0.0, 0.03, -0.01, 0.02, 0.01,
  0.03, -0.06, 0.02, 0.04, 0.01, -0.03, 0.02, 0.06, -0.02, 0.01, 0.05, -0.07, 0.03, 0.0, 0.02, -0.02, 0.03, 0.01, -0.01, 0.02,
  -0.02, 0.05, 0.01, -0.04, 0.08, 0.0, -0.03, 0.02, 0.01, -0.05, 0.06, 0.0, -0.02, 0.03, 0.01, 0.02, -0.01, 0.03, 0.0, 0.02,
  0.04, -0.03, 0.01, 0.02, -0.05, 0.05, 0.0, -0.01, 0.03, 0.01, -0.04, 0.06, 0.0, -0.02, 0.02, 0.03, -0.01, 0.01, 0.02, 0.0,
  0.03, -0.08, 0.02, 0.05, -0.02, 0.01, 0.04, 0.1, 0.0, 0.13, -0.03, 0.02, 0.05, -0.04, 0.01, 0.02, -0.01, 0.03, 0.0, 0.01,
  0.02, -0.05, 0.01, 0.06, -0.02, 0.03, 0.04, -0.1, 0.02, 0.03, -0.04, 0.01, 0.05, -0.02, 0.0, 0.02, 0.01, -0.02, 0.03, 0.0,
  0.03, -0.04, 0.01, 0.02, -0.03, 0.05, 0.0, 0.09, -0.03, 0.02, 0.04, -0.02, 0.01, 0.03, 0.0, -0.02, 0.02, 0.01, 0.03, -0.01,
  -0.04, 0.06, 0.0, -0.02, 0.03, 0.01, -0.05, 0.04, 0.02, -0.01, 0.06, 0.0, -0.03, 0.02, 0.01, 0.03, -0.02, 0.01, 0.02, 0.0,
  0.05, -0.06, 0.02, 0.03, -0.04, 0.01, 0.07, -0.02, 0.03, 0.04, -0.08, 0.01, 0.05, -0.03, 0.02, 0.0, 0.03, -0.02, 0.01, 0.02,
  0.03, -0.05, 0.02, 0.06, -0.03, 0.01, 0.04, -0.06, 0.02, 0.08, -0.04, 0.03, 0.05, -0.07, 0.02, 0.06, -0.05, 0.04, -0.03, 0.02,
  0.06, -0.03, 0.02, 0.04, -0.05, 0.03, 0.01, -0.01, 0.04, -0.02, 0.05, 0.0, -0.03, 0.02, 0.01, 0.03, 0.0, 0.02, 0.01, 0.0,
  0.02, 0.04, 0.06, -0.02, 0.03, 0.01, -0.04, 0.02, 0.01, 0.03, 0.16, -0.03, 0.02, -0.14, 0.05, 0.0, -0.08, 0.03, 0.04, 0.01,
  0.04, -0.05, 0.02, 0.03, 0.0, -0.17, 0.02, 0.01, 0.05, -0.02, -0.04, 0.03, 0.02, -0.06, 0.01, 0.04, 0.0, 0.02, 0.03, 0.01,
  -0.02, 0.03, 0.02, 0.04, 0.05, 0.02, 0.03, 0.0, -0.2, -0.05, 0.06, 0.03, 0.01, 0.02, 0.04
];
var utE07 = [
  0.19, 0.23, 0.17, 0.21, 0.32, 0.2, 0.18, 0.08, 0.25, 0.21, 0.18, 0.23, 0.28, 0.17, 0.2, 0.22, 0.19, 0.24, 0.2, 0.18,
  0.16, 0.24, 0.21, 0.19, 0.31, 0.17, 0.22, 0.14, 0.2, 0.22, 0.18, 0.26, 0.2, 0.37, 0.13, 0.23, 0.19, 0.21, 0.2, 0.22,
  0.23, 0.18, 0.21, 0.25, 0.11, 0.22, 0.2, 0.19, 0.24, 0.27, 0.16, 0.21, 0.23, 0.19, 0.2, 0.22, 0.18, 0.21, 0.2, 0.19,
  0.24, 0.17, 0.21, 0.34, 0.12, 0.22, 0.2, 0.19, 0.25, 0.18, 0.21, 0.17, 0.22, 0.28, 0.19, 0.21, 0.2, 0.18, 0.22, 0.2,
  0.2, 0.16, 0.23, 0.21, 0.07, 0.27, 0.19, 0.21, 0.34, 0.2, 0.09, 0.24, 0.2, 0.18, 0.22, 0.21, 0.19, 0.2, 0.23, 0.19,
  0.17, 0.25, 0.2, 0.21, 0.14, 0.23, 0.19, 0.2, 0.26, 0.17, 0.22, 0.2, 0.12, 0.21, 0.19, 0.23, 0.2, 0.18, 0.21, 0.2,
  0.21, 0.27, 0.18, 0.2, 0.24, 0.19, 0.16, 0.21, 0.29, 0.19, 0.2, 0.23, 0.17, 0.21, 0.2, 0.22, 0.19, 0.2, 0.21, 0.18,
  0.22, 0.18, 0.2, 0.25, 0.19, 0.16, 0.24, 0.2, 0.19, 0.27, 0.15, 0.22, 0.2, 0.21, 0.18, 0.22, 0.2, 0.19, 0.21, 0.2,
  0.19, 0.25, 0.21, 0.31, 0.17, 0.2, 0.22, 0.19, 0.26, 0.16, 0.21, 0.23, 0.19, 0.2, 0.22, 0.18, 0.21, 0.2, 0.19, 0.22,
  0.24, 0.18, 0.2, 0.36, 0.13, 0.21, 0.23, 0.19, 0.2, 0.26, 0.17, 0.22, 0.2, 0.19, 0.21, 0.2, 0.23, 0.18, 0.21, 0.2,
  0.2, 0.25, 0.18, 0.21, 0.23, 0.16, 0.26, 0.2, 0.19, 0.17, 0.24, 0.2, 0.21, 0.19, 0.22, 0.2, 0.18, 0.21, 0.2, 0.22,
  0.22, 0.17, 0.2, 0.32, 0.15, 0.21, 0.24, 0.19, 0.2, 0.27, 0.18, 0.22, 0.2, 0.19, 0.21, 0.23, 0.2, 0.18, 0.21, 0.2,
  0.19, 0.25, 0.2, 0.17, 0.22, 0.28, 0.16, 0.21, 0.23, 0.19, 0.2, 0.26, 0.2, 0.18, 0.21, 0.2, 0.22, 0.19, 0.2, 0.21,
  0.23, 0.18, 0.2, 0.26, 0.12, 0.22, 0.2, 0.19, 0.25, 0.17, 0.21, 0.2, 0.24, 0.19, 0.21, 0.2, 0.18, 0.22, 0.2, 0.19,
  0.19, 0.23, 0.2, 0.1, 0.26, 0.21, 0.2, 0.17, 0.33, 0.15, 0.24, 0.19, 0.27, 0.13, 0.25, 0.18, 0.26, 0.16, 0.23, 0.2,
  0.27, 0.17, 0.23, 0.26, 0.14, 0.25, 0.18, 0.22, 0.2, 0.24, 0.19, 0.21, 0.2, 0.22, 0.19, 0.21, 0.2, 0.23, 0.2, 0.21,
  0.21, 0.17, 0.24, 0.2, 0.22, 0.28, 0.15, 0.22, 0.2, 0.25, 0.3, 0.12, 0.24, 0.06, 0.3, 0.18, 0.22, 0.2, 0.24, 0.2,
  0.24, 0.2, 0.18, 0.09, 0.23, 0.21, 0.19, 0.26, 0.17, 0.22, 0.2, 0.24, 0.2, 0.18, 0.21, 0.25, 0.2, 0.17, 0.22, 0.2,
  0.23, 0.17, 0.2, 0.27, 0.22, 0.18, 0.2, 0.12, 0.02, 0.15, 0.26, 0.2, 0.21, 0.18, 0.23
];
var utE10 = [
  0.39, 0.42, 0.4, 0.36, 0.55, 0.41, 0.38, 0.27, 0.44, 0.4, 0.38, 0.46, 0.41, 0.39, 0.4, 0.43, 0.38, 0.41, 0.4, 0.42,
  0.37, 0.45, 0.41, 0.39, 0.52, 0.38, 0.42, 0.35, 0.4, 0.42, 0.38, 0.44, 0.4, 0.33, 0.41, 0.43, 0.39, 0.4, 0.42, 0.4,
  0.44, 0.38, 0.41, 0.42, 0.35, 0.43, 0.4, 0.39, 0.46, 0.41, 0.37, 0.42, 0.4, 0.39, 0.41, 0.43, 0.38, 0.4, 0.42, 0.4,
  0.43, 0.37, 0.41, 0.55, 0.39, 0.42, 0.4, 0.36, 0.44, 0.4, 0.38, 0.41, 0.4, 0.45, 0.39, 0.41, 0.4, 0.38, 0.42, 0.4,
  0.39, 0.36, 0.42, 0.43, 0.3, 0.5, 0.4, 0.41, 0.43, 0.37, 0.42, 0.4, 0.39, 0.41, 0.4, 0.42, 0.38, 0.41, 0.4, 0.39,
  0.37, 0.45, 0.41, 0.4, 0.35, 0.47, 0.39, 0.41, 0.43, 0.36, 0.42, 0.4, 0.38, 0.41, 0.4, 0.42, 0.39, 0.41, 0.4, 0.38,
  0.42, 0.36, 0.44, 0.4, 0.41, 0.33, 0.43, 0.39, 0.45, 0.4, 0.37, 0.41, 0.4, 0.42, 0.39, 0.41, 0.4, 0.38, 0.42, 0.4,
  0.43, 0.38, 0.41, 0.46, 0.4, 0.35, 0.43, 0.39, 0.41, 0.45, 0.37, 0.42, 0.4, 0.39, 0.41, 0.4, 0.42, 0.38, 0.41, 0.4,
  0.4, 0.44, 0.41, 0.54, 0.38, 0.42, 0.3, 0.41, 0.45, 0.39, 0.42, 0.4, 0.37, 0.41, 0.4, 0.42, 0.39, 0.41, 0.4, 0.38,
  0.43, 0.39, 0.41, 0.46, 0.36, 0.41, 0.44, 0.4, 0.38, 0.5, 0.37, 0.42, 0.4, 0.39, 0.41, 0.4, 0.42, 0.38, 0.41, 0.4,
  0.39, 0.44, 0.4, 0.37, 0.42, 0.35, 0.45, 0.4, 0.41, 0.38, 0.43, 0.41, 0.4, 0.39, 0.42, 0.4, 0.38, 0.41, 0.4, 0.42,
  0.37, 0.46, 0.4, 0.42, 0.43, 0.36, 0.42, 0.39, 0.41, 0.45, 0.38, 0.41, 0.4, 0.42, 0.39, 0.41, 0.4, 0.38, 0.42, 0.4,
  0.44, 0.38, 0.41, 0.42, 0.47, 0.36, 0.43, 0.4, 0.39, 0.44, 0.37, 0.42, 0.4, 0.41, 0.39, 0.4, 0.42, 0.38, 0.41, 0.4,
  0.4, 0.45, 0.38, 0.41, 0.42, 0.35, 0.43, 0.39, 0.41, 0.46, 0.37, 0.42, 0.4, 0.39, 0.41, 0.4, 0.42, 0.38, 0.41, 0.4,
  0.39, 0.44, 0.37, 0.41, 0.42, 0.51, 0.36, 0.45, 0.39, 0.42, 0.54, 0.37, 0.44, 0.36, 0.47, 0.38, 0.45, 0.35, 0.43, 0.4,
  0.42, 0.47, 0.38, 0.43, 0.39, 0.44, 0.41, 0.52, 0.38, 0.42, 0.4, 0.41, 0.39, 0.42, 0.4, 0.41, 0.43, 0.39, 0.41, 0.4,
  0.4, 0.44, 0.38, 0.42, 0.4, 0.49, 0.37, 0.43, 0.41, 0.46, 0.36, 0.48, 0.4, 0.26, 0.48, 0.35, 0.43, 0.4, 0.44, 0.39,
  0.42, 0.38, 0.41, 0.55, 0.3, 0.43, 0.4, 0.39, 0.51, 0.37, 0.42, 0.44, 0.41, 0.38, 0.43, 0.4, 0.52, 0.36, 0.42, 0.41,
  0.34, 0.42, 0.4, 0.48, 0.41, 0.37, 0.42, 0.35, 0.29, 0.38, 0.43, 0.41, 0.42, 0.4, 0.42
];
var utE15 = [
  0.63, 0.58, 0.61, 0.66, 0.6, 0.69, 0.57, 0.62, 0.63, 0.59, 0.7, 0.58, 0.61, 0.6, 0.63, 0.59, 0.61, 0.6, 0.62, 0.58,
  0.62, 0.56, 0.61, 0.64, 0.6, 0.67, 0.55, 0.62, 0.63, 0.59, 0.61, 0.6, 0.58, 0.46, 0.62, 0.61, 0.59, 0.62, 0.6, 0.61,
  0.6, 0.64, 0.57, 0.61, 0.62, 0.59, 0.66, 0.56, 0.61, 0.6, 0.63, 0.58, 0.61, 0.6, 0.62, 0.59, 0.61, 0.6, 0.62, 0.6,
  0.61, 0.58, 0.62, 0.64, 0.6, 0.74, 0.53, 0.62, 0.59, 0.61, 0.63, 0.57, 0.61, 0.6, 0.62, 0.59, 0.61, 0.6, 0.63, 0.6,
  0.6, 0.65, 0.58, 0.61, 0.62, 0.54, 0.63, 0.6, 0.59, 0.66, 0.57, 0.61, 0.6, 0.62, 0.59, 0.61, 0.6, 0.62, 0.58, 0.61,
  0.63, 0.58, 0.61, 0.6, 0.56, 0.64, 0.6, 0.61, 0.57, 0.62, 0.59, 0.63, 0.6, 0.61, 0.59, 0.62, 0.6, 0.61, 0.59, 0.6,
  0.6, 0.64, 0.58, 0.61, 0.69, 0.56, 0.62, 0.6, 0.61, 0.65, 0.57, 0.61, 0.6, 0.62, 0.59, 0.61, 0.6, 0.62, 0.6, 0.59,
  0.63, 0.59, 0.61, 0.6, 0.72, 0.55, 0.62, 0.6, 0.61, 0.58, 0.64, 0.6, 0.61, 0.59, 0.62, 0.6, 0.61, 0.6, 0.62, 0.6,
  0.62, 0.57, 0.61, 0.6, 0.63, 0.58, 0.61, 0.6, 0.59, 0.62, 0.6, 0.61, 0.58, 0.62, 0.6, 0.61, 0.59, 0.61, 0.6, 0.62,
  0.59, 0.62, 0.6, 0.58, 0.63, 0.6, 0.61, 0.57, 0.64, 0.6, 0.61, 0.58, 0.62, 0.6, 0.61, 0.59, 0.62, 0.6, 0.61, 0.6,
  0.6, 0.63, 0.57, 0.61, 0.66, 0.58, 0.62, 0.6, 0.55, 0.63, 0.6, 0.61, 0.59, 0.62, 0.6, 0.61, 0.59, 0.62, 0.6, 0.61,
  0.62, 0.58, 0.61, 0.64, 0.56, 0.61, 0.6, 0.74, 0.59, 0.62, 0.6, 0.57, 0.63, 0.6, 0.61, 0.59, 0.62, 0.6, 0.61, 0.6,
  0.6, 0.64, 0.58, 0.61, 0.6, 0.67, 0.57, 0.62, 0.6, 0.61, 0.58, 0.63, 0.6, 0.61, 0.59, 0.62, 0.6, 0.61, 0.59, 0.6,
  0.61, 0.57, 0.62, 0.64, 0.6, 0.55, 0.62, 0.59, 0.61, 0.65, 0.58, 0.61, 0.6, 0.62, 0.59, 0.61, 0.6, 0.62, 0.6, 0.61,
  0.63, 0.58, 0.62, 0.6, 0.61, 0.57, 0.65, 0.6, 0.61, 0.59, 0.64, 0.53, 0.62, 0.6, 0.66, 0.57, 0.63, 0.59, 0.64, 0.6,
  0.6, 0.67, 0.58, 0.62, 0.61, 0.56, 0.63, 0.6, 0.71, 0.58, 0.61, 0.6, 0.62, 0.59, 0.61, 0.6, 0.63, 0.6, 0.61, 0.6,
  0.62, 0.58, 0.64, 0.6, 0.61, 0.56, 0.69, 0.6, 0.59, 0.62, 0.51, 0.66, 0.6, 0.58, 0.63, 0.6, 0.65, 0.59, 0.62, 0.6,
  0.62, 0.71, 0.57, 0.63, 0.6, 0.61, 0.58, 0.7, 0.6, 0.62, 0.59, 0.61, 0.6, 0.65, 0.59, 0.8, 0.6, 0.62, 0.58, 0.61,
  0.57, 0.64, 0.6, 0.62, 0.59, 0.61, 0.72, 0.63, 0.66, 0.62, 0.6, 0.64, 0.61, 0.6, 0.62
];

var panels = [
  [greenE05, greenE07, greenE10, greenE15],
  [westE05, westE07, westE10, westE15],
  [utE05, utE07, utE10, utE15]
];

// MATLAB default line colours
var colors = ['#0072BD', '#D95319', '#EDB120', '#7E2F8E'];
var axisColor = '#262626';
var fontFamily = '"Liberation Sans", Arial, Helvetica, sans-serif';

var grids = [
  { left: 68, top: 34, width: 1122, height: 203 },
  { left: 66, top: 317, width: 1127, height: 201 },
  { left: 66, top: 598, width: 1130, height: 203 }
];
var yLimits = [[-1.65, 10], [-1.95, 10], [-0.19, 1]];
var nameGaps = [33, 33, 40];

function pairs(vals) {
  var out = [];
  for (var i = 0; i < vals.length && i < years.length; i++) {
    out.push([years[i], vals[i]]);
  }
  return out;
}

function plainNumber(v) {
  return String(v);
}

var option = {
  animation: false,
  backgroundColor: '#fff',
  color: colors,
  textStyle: { fontFamily: fontFamily },
  title: [],
  grid: [],
  xAxis: [],
  yAxis: [],
  series: [],
  legend: {
    data: seriesNames,
    left: 267,
    top: 862,
    padding: [5, 6, 4, 7],
    itemGap: 9,
    itemWidth: 65,
    itemHeight: 1,
    icon: 'rect',
    borderColor: axisColor,
    borderWidth: 1,
    borderRadius: 0,
    backgroundColor: '#fff',
    textStyle: { fontSize: 18, color: '#000', fontFamily: fontFamily }
  }
};

grids.forEach(function (g, i) {
  var yTicks = i === 2 ? yTicksMs : yTicksMas;
  var tickStyle = { show: true, inside: true, length: 10, lineStyle: { color: axisColor, width: 1 } };
  var lineStyle = { show: true, onZero: false, lineStyle: { color: axisColor, width: 1 } };

  option.title.push({
    text: titles[i],
    left: g.left + g.width / 2,
    top: g.top - 26,
    textAlign: 'center',
    padding: 0,
    textStyle: { fontSize: 21.5, fontWeight: 'bold', color: '#000', fontFamily: fontFamily }
  });

  option.grid.push({
    left: g.left, top: g.top, width: g.width, height: g.height,
    outerBoundsMode: 'none', containLabel: false
  });

  // bottom + top x axes, so the box has ticks on both sides
  option.xAxis.push({
    type: 'value', gridIndex: i, position: 'bottom',
    min: 1999.5, max: 2019.5,
    axisLine: lineStyle,
    axisTick: Object.assign({ customValues: xTicks }, tickStyle),
    axisLabel: { customValues: xTicks, formatter: plainNumber, fontSize: 19, color: axisColor, margin: 10, fontFamily: fontFamily },
    splitLine: { show: false }
  });
  option.xAxis.push({
    type: 'value', gridIndex: i, position: 'top',
    min: 1999.5, max: 2019.5,
    axisLine: lineStyle,
    axisTick: Object.assign({ customValues: xTicks }, tickStyle),
    axisLabel: { show: false },
    splitLine: { show: false }
  });

  option.yAxis.push({
    type: 'value', gridIndex: i, position: 'left',
    min: yLimits[i][0], max: yLimits[i][1],
    name: units[i], nameLocation: 'middle', nameGap: nameGaps[i],
    nameMoveOverlap: false,
    nameTextStyle: { fontSize: 21.5, color: axisColor, fontFamily: fontFamily },
    axisLine: lineStyle,
    axisTick: Object.assign({ customValues: yTicks }, tickStyle),
    axisLabel: { customValues: yTicks, formatter: plainNumber, fontSize: 19, color: axisColor, margin: 8, fontFamily: fontFamily },
    splitLine: { show: false }
  });
  option.yAxis.push({
    type: 'value', gridIndex: i, position: 'right',
    min: yLimits[i][0], max: yLimits[i][1],
    axisLine: lineStyle,
    axisTick: Object.assign({ customValues: yTicks }, tickStyle),
    axisLabel: { show: false },
    splitLine: { show: false }
  });

  panels[i].forEach(function (vals, k) {
    option.series.push({
      name: seriesNames[k],
      type: 'line',
      xAxisIndex: i * 2,
      yAxisIndex: i * 2,
      data: pairs(vals),
      symbol: 'none',
      showSymbol: false,
      clip: true,
      lineStyle: { width: 1.2, color: colors[k] },
      itemStyle: { color: colors[k] }
    });
  });
});

var chart = echarts.init(document.getElementById('chart'), null, { renderer: 'canvas' });
chart.setOption(option);
</script>
</body>
</html>
